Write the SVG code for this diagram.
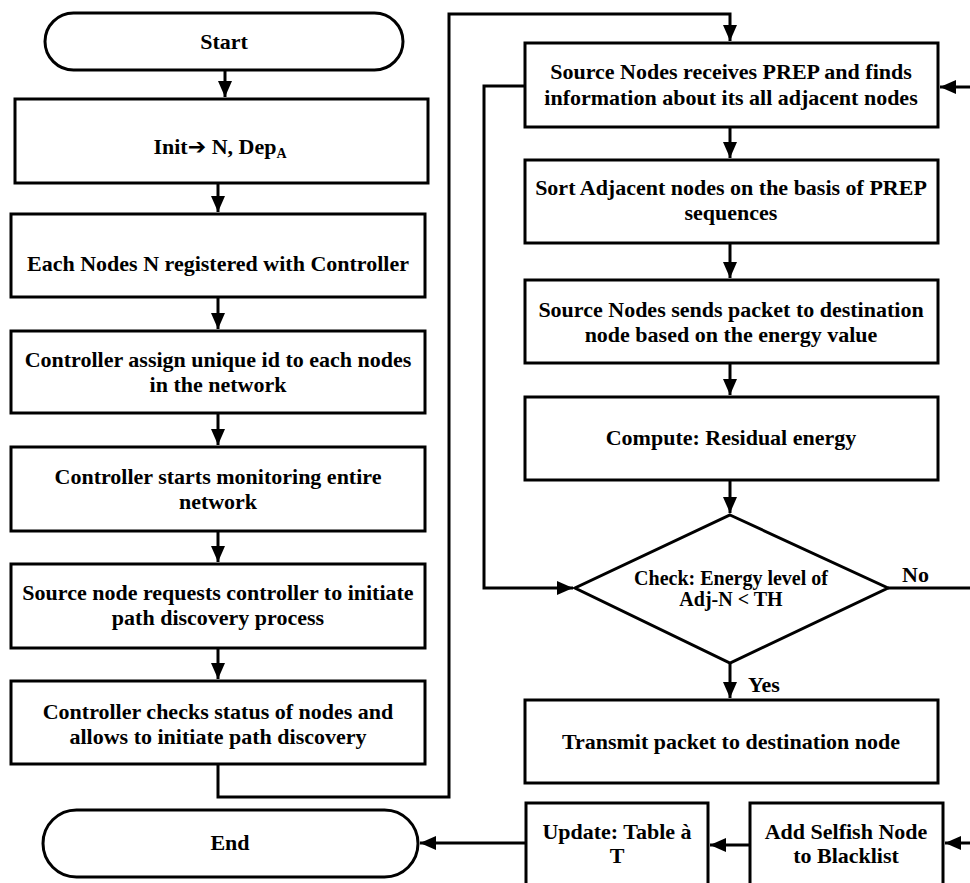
<svg xmlns="http://www.w3.org/2000/svg" width="970" height="883" viewBox="0 0 970 883">
<style>
.b{fill:#fff;stroke:#000;stroke-width:3}
.t{font-family:'Liberation Serif','Times New Roman','DejaVu Serif',serif;font-weight:700;font-size:22px;fill:#000;text-anchor:middle}
.s{font-size:20px}
.st{text-anchor:start}
.c{fill:none;stroke:#000;stroke-width:3}
</style>
<defs>
<marker id="ah" markerUnits="userSpaceOnUse" markerWidth="16" markerHeight="14" refX="16" refY="7" orient="auto">
<path d="M0,0 L16,7 L0,14 z" fill="#000"/>
</marker>
</defs>
<rect width="970" height="883" fill="#fff"/>
<g id="connectors">
<path class="c" d="M225,70 V97" marker-end="url(#ah)"/>
<path class="c" d="M218,183 V212" marker-end="url(#ah)"/>
<path class="c" d="M218,297 V329" marker-end="url(#ah)"/>
<path class="c" d="M218,413 V445" marker-end="url(#ah)"/>
<path class="c" d="M218,531 V562" marker-end="url(#ah)"/>
<path class="c" d="M218,648 V679" marker-end="url(#ah)"/>
<path class="c" d="M218,764 V797 H449 V14 H730 V41" marker-end="url(#ah)"/>
<path class="c" d="M730,127 V158" marker-end="url(#ah)"/>
<path class="c" d="M730,243 V278" marker-end="url(#ah)"/>
<path class="c" d="M730,363 V395" marker-end="url(#ah)"/>
<path class="c" d="M730,480 V513" marker-end="url(#ah)"/>
<path class="c" d="M525,86 H484 V588 H573" marker-end="url(#ah)"/>
<path class="c" d="M888,588 H972"/>
<path class="c" d="M972,87 H940" marker-end="url(#ah)"/>
<path class="c" d="M730,663 V698" marker-end="url(#ah)"/>
<path class="c" d="M972,843 H945" marker-end="url(#ah)"/>
<path class="c" d="M750,845 H710" marker-end="url(#ah)"/>
<path class="c" d="M526,843 H420" marker-end="url(#ah)"/>
</g>
<g id="start">
<rect class="b" x="45" y="13" width="358" height="57" rx="28.5"/>
<text class="t" x="224" y="49">Start</text>
</g>
<g id="init">
<rect class="b" x="15" y="99" width="413" height="84"/>
<text class="t" x="220" y="154">Init<tspan font-family="DejaVu Sans" font-size="22">➔</tspan> N, Dep<tspan font-size="14" dy="4">A</tspan></text>
</g>
<g id="register">
<rect class="b" x="11" y="214" width="414" height="83"/>
<text class="t" x="218" y="271">Each Nodes N registered with Controller</text>
</g>
<g id="assign">
<rect class="b" x="11" y="331" width="414" height="82"/>
<text class="t" x="218" y="367">Controller assign unique id to each nodes</text>
<text class="t" x="218" y="392">in the network</text>
</g>
<g id="monitor">
<rect class="b" x="11" y="447" width="414" height="84"/>
<text class="t" x="218" y="484">Controller starts monitoring entire</text>
<text class="t" x="218" y="509">network</text>
</g>
<g id="request">
<rect class="b" x="11" y="564" width="414" height="84"/>
<text class="t" x="218" y="600">Source node requests controller to initiate</text>
<text class="t" x="218" y="625">path discovery process</text>
</g>
<g id="checkstatus">
<rect class="b" x="11" y="681" width="414" height="83"/>
<text class="t" x="218" y="719">Controller checks status of nodes and</text>
<text class="t" x="218" y="744">allows to initiate path discovery</text>
</g>
<g id="receive">
<rect class="b" x="525" y="43" width="413" height="84"/>
<text class="t" x="731" y="79">Source Nodes receives PREP and finds</text>
<text class="t" x="731" y="105">information about its all adjacent nodes</text>
</g>
<g id="sort">
<rect class="b" x="525" y="160" width="413" height="83"/>
<text class="t" x="731" y="195">Sort Adjacent nodes on the basis of PREP</text>
<text class="t" x="731" y="220">sequences</text>
</g>
<g id="send">
<rect class="b" x="525" y="280" width="413" height="83"/>
<text class="t" x="731" y="317">Source Nodes sends packet to destination</text>
<text class="t" x="731" y="342">node based on the energy value</text>
</g>
<g id="compute">
<rect class="b" x="525" y="397" width="413" height="83"/>
<text class="t" x="731" y="445">Compute: Residual energy</text>
</g>
<g id="check">
<polygon class="b" points="730,515 888,588 730,663 575,588"/>
<text class="t s" x="731" y="585">Check: Energy level of</text>
<text class="t s" x="731" y="606">Adj-N &lt; TH</text>
<text class="t st" x="902" y="582">No</text>
<text class="t st" x="748" y="692">Yes</text>
</g>
<g id="transmit">
<rect class="b" x="525" y="700" width="413" height="83"/>
<text class="t" x="731" y="749">Transmit packet to destination node</text>
</g>
<g id="update">
<rect class="b" x="526" y="803" width="182" height="90"/>
<text class="t" x="617" y="839">Update: Table à</text>
<text class="t" x="617" y="863">T</text>
</g>
<g id="blacklist">
<rect class="b" x="750" y="803" width="193" height="90"/>
<text class="t" x="846" y="839">Add Selfish Node</text>
<text class="t" x="846" y="863">to Blacklist</text>
</g>
<g id="end">
<rect class="b" x="43" y="810" width="375" height="67" rx="33.5"/>
<text class="t" x="230" y="850">End</text>
</g>
</svg>
